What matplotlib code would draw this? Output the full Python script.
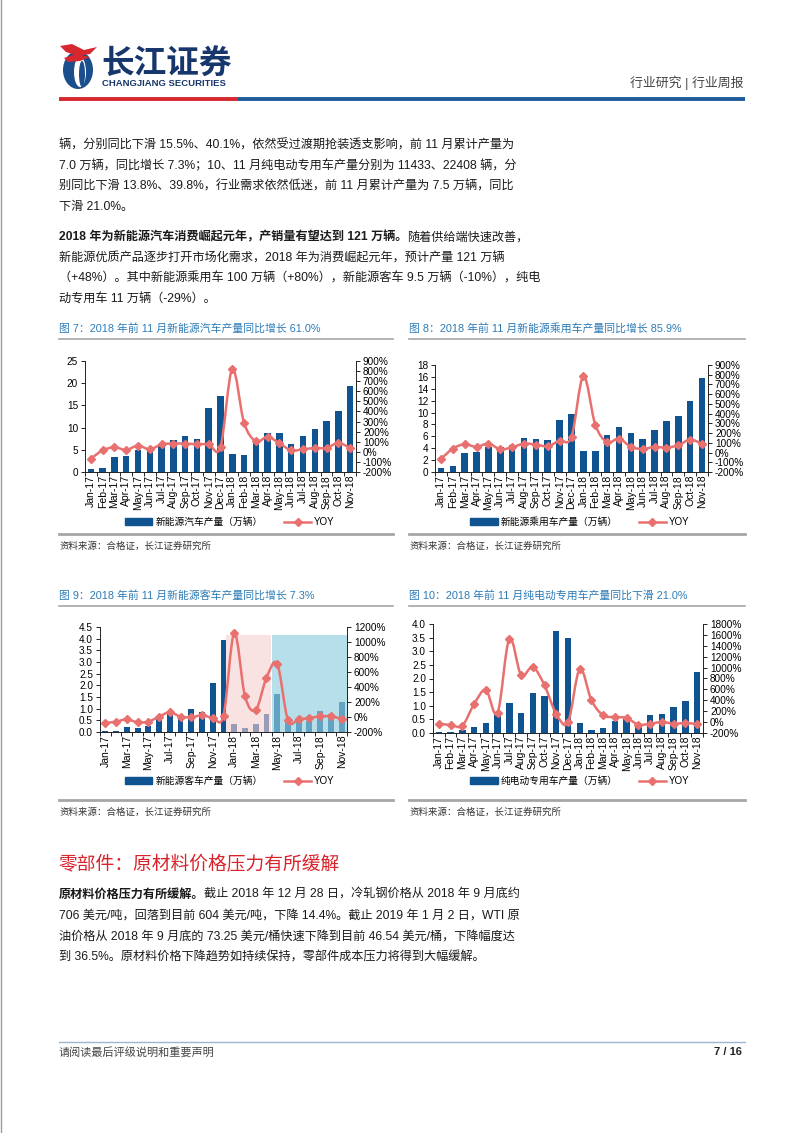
import matplotlib
matplotlib.use("Agg")
import matplotlib.pyplot as plt
import numpy as np
from matplotlib.path import Path
from matplotlib.patches import PathPatch, Ellipse, Polygon, Rectangle
from matplotlib.lines import Line2D

FAM = ['Liberation Sans', 'Noto Sans CJK SC']
plt.rcParams['font.family'] = FAM
plt.rcParams['axes.unicode_minus'] = False

# ---------------- data ----------------
months = ['Jan-17', 'Feb-17', 'Mar-17', 'Apr-17', 'May-17', 'Jun-17', 'Jul-17', 'Aug-17',
          'Sep-17', 'Oct-17', 'Nov-17', 'Dec-17', 'Jan-18', 'Feb-18', 'Mar-18', 'Apr-18',
          'May-18', 'Jun-18', 'Jul-18', 'Aug-18', 'Sep-18', 'Oct-18', 'Nov-18']

nev_prod = [0.6, 1.0, 3.4, 3.5, 4.9, 5.0, 6.3, 7.2, 8.1, 7.5, 14.5, 17.2,
            4.1, 3.8, 6.8, 8.8, 8.8, 6.3, 8.0, 9.6, 11.4, 13.7, 19.4]
nev_yoy = [-68, 15, 45, 19, 62, 25, 75, 82, 82, 75, 75, 48,
           820, 287, 105, 148, 85, 15, 25, 38, 38, 88, 38]

pv_prod = [0.6, 1.0, 3.2, 3.3, 4.2, 4.2, 4.6, 5.8, 5.6, 5.3, 8.7, 9.8,
           3.5, 3.6, 6.2, 7.65, 6.5, 5.6, 7.0, 8.55, 9.45, 11.9, 15.75]
pv_yoy = [-66, 40, 85, 58, 92, 34, 54, 92, 82, 65, 123, 161,
          786, 288, 106, 144, 58, 37, 58, 51, 75, 133, 89]

bus_prod = [0.05, 0.06, 0.22, 0.17, 0.26, 0.70, 0.77, 0.66, 1.00, 0.87, 2.12, 3.95,
            0.34, 0.18, 0.34, 0.79, 1.63, 0.42, 0.44, 0.49, 0.92, 0.77, 1.30]
bus_yoy = [-80, -62, -31, -71, -62, 5, 63, 5, -4, 23, -8, 18,
           1120, 277, 94, 522, 709, -40, -31, -13, 9, 9, -26]

sv_prod = [0.04, 0.04, 0.10, 0.23, 0.38, 0.67, 1.10, 0.75, 1.46, 1.36, 3.76, 3.49,
           0.38, 0.12, 0.18, 0.43, 0.60, 0.30, 0.66, 0.71, 0.94, 1.19, 2.25]
sv_yoy = [-29, -53, -65, 332, 589, 167, 1531, 864, 1011, 675, 149, -4,
          974, 399, 124, 94, 75, -47, -29, 2, -29, -17, -35]

left_ticks_1 = [0, 5, 10, 15, 20, 25]
right_ticks_1 = [-200, -100, 0, 100, 200, 300, 400, 500, 600, 700, 800, 900]
left_ticks_2 = [0, 2, 4, 6, 8, 10, 12, 14, 16, 18]
right_ticks_2 = right_ticks_1
left_ticks_3 = [0, 0.5, 1.0, 1.5, 2.0, 2.5, 3.0, 3.5, 4.0, 4.5]
right_ticks_3 = [-200, 0, 200, 400, 600, 800, 1000, 1200]
left_ticks_4 = [0, 0.5, 1.0, 1.5, 2.0, 2.5, 3.0, 3.5, 4.0]
right_ticks_4 = [-200, 0, 200, 400, 600, 800, 1000, 1200, 1400, 1600, 1800]

bar_labels = ['新能源汽车产量（万辆）', '新能源乘用车产量（万辆）', '新能源客车产量（万辆）', '纯电动专用车产量（万辆）']
captions = ['图 7：2018 年前 11 月新能源汽车产量同比增长 61.0%',
            '图 8：2018 年前 11 月新能源乘用车产量同比增长 85.9%',
            '图 9：2018 年前 11 月新能源客车产量同比增长 7.3%',
            '图 10：2018 年前 11 月纯电动专用车产量同比下滑 21.0%']
source = '资料来源：合格证，长江证券研究所'

# ---------------- style ----------------
BAR = '#0F5490'
LINE = '#E8706F'
CAP = '#2C7BB6'
TXT = '#1A1A1A'
W, H = 802, 1133
TICK_FS = 7.2

fig = plt.figure(figsize=(W / 100, H / 100), dpi=100)
page = fig.add_axes([0, 0, 1, 1])
page.set_xlim(0, W)
page.set_ylim(H, 0)
page.axis('off')


def smooth_path(x, y):
    x = np.asarray(x, float)
    y = np.asarray(y, float)
    n = len(x)
    verts = [(x[0], y[0])]
    codes = [Path.MOVETO]
    for i in range(n - 1):
        i0 = max(i - 1, 0)
        i3 = min(i + 2, n - 1)
        c1 = (x[i] + (x[i + 1] - x[i0]) / 6, y[i] + (y[i + 1] - y[i0]) / 6)
        c2 = (x[i + 1] - (x[i3] - x[i]) / 6, y[i + 1] - (y[i3] - y[i]) / 6)
        verts += [c1, c2, (x[i + 1], y[i + 1])]
        codes += [Path.CURVE4] * 3
    return Path(verts, codes)


def px_rect(x0, y0, x1, y1):
    return [x0 / W, 1 - y1 / H, (x1 - x0) / W, (y1 - y0) / H]


def make_chart(rect, prod, yoy, lticks, rticks, lfmt, label, legend_xy, step=1):
    ax = fig.add_axes(rect)
    xs = np.arange(len(months))
    ax.bar(xs, prod, width=0.55, color=BAR, zorder=2)
    ax.set_xlim(-0.5, len(months) - 0.5)
    ax.set_ylim(lticks[0], lticks[-1])
    ax.set_yticks(lticks)
    ax.set_yticklabels([lfmt(v) for v in lticks], fontsize=TICK_FS)
    ax.set_xticks(xs[::step])
    ax.set_xticklabels(months[::step], rotation=90, fontsize=7.5)
    ax.set_xticks(np.arange(-0.5, len(months), 1), minor=True)
    ax.tick_params(axis='x', which='major', length=0, pad=2)
    ax.tick_params(axis='x', which='minor', length=3, direction='out', width=0.6)
    ax.tick_params(axis='y', length=3, width=0.6, pad=2)
    for s in ['top', 'right']:
        ax.spines[s].set_visible(False)
    for s in ['left', 'bottom']:
        ax.spines[s].set_linewidth(0.7)
        ax.spines[s].set_color('#222222')
    ax2 = ax.twinx()
    ax2.set_ylim(rticks[0], rticks[-1])
    ax2.set_yticks(rticks)
    ax2.set_yticklabels([f'{v}%' for v in rticks], fontsize=TICK_FS)
    ax2.tick_params(axis='y', length=3, width=0.6, pad=2)
    for s in ['top', 'left', 'bottom']:
        ax2.spines[s].set_visible(False)
    ax2.spines['right'].set_linewidth(0.7)
    ax2.spines['right'].set_color('#222222')
    patch = PathPatch(smooth_path(xs, yoy), facecolor='none', edgecolor=LINE, lw=1.8, zorder=3)
    ax2.add_patch(patch)
    ax2.plot(xs, yoy, linestyle='none', marker='D', markersize=4.2, color=LINE, zorder=4)
    handles = [Rectangle((0, 0), 1, 1, color=BAR),
               Line2D([], [], color=LINE, lw=1.8, marker='D', markersize=4.2)]
    fig.legend(handles, [label, 'YOY'], loc='center',
               bbox_to_anchor=(legend_xy[0] / W, 1 - legend_xy[1] / H),
               ncol=2, frameon=False, fontsize=7.0, handlelength=2.8, handleheight=0.6,
               columnspacing=2.2, handletextpad=0.3, numpoints=1)
    return ax, ax2


fmt_int = lambda v: f'{v:g}'
fmt_1 = lambda v: f'{v:.1f}'

make_chart(px_rect(85, 361, 356, 472), nev_prod, nev_yoy, left_ticks_1, right_ticks_1,
           fmt_int, bar_labels[0], (230, 522))
make_chart(px_rect(435, 365, 708, 472), pv_prod, pv_yoy, left_ticks_2, right_ticks_2,
           fmt_int, bar_labels[1], (580, 522))
ax3, ax3b = make_chart(px_rect(100, 627, 347, 732), bus_prod, bus_yoy, left_ticks_3, right_ticks_3,
                       fmt_1, bar_labels[2], (230, 781), step=2)
make_chart(px_rect(433, 624, 703, 733), sv_prod, sv_yoy, left_ticks_4, right_ticks_4,
           fmt_1, bar_labels[3], (580, 781))

# highlight overlays on chart 9
i_jan18 = months.index('Jan-18')
i_may18 = months.index('May-18')
top = 4.15
ax3.add_patch(Rectangle((i_jan18 - 0.75, 0), (i_may18 - 0.55) - (i_jan18 - 0.75), top,
                        facecolor='#F5CFCF', alpha=0.6, edgecolor='none', zorder=10,
                        transform=ax3.transData))
ax3.add_patch(Rectangle((i_may18 - 0.45, 0), (len(months) - 0.5) - (i_may18 - 0.45), top,
                        facecolor='#8FCFE0', alpha=0.65, edgecolor='none', zorder=10,
                        transform=ax3.transData))

# ---------------- page furniture ----------------
# logo icon
page.add_patch(Ellipse((78, 70), 30, 38, facecolor='#1B4E8C', edgecolor='none'))
page.add_patch(Ellipse((80, 72), 12, 30, facecolor='white', edgecolor='none'))
page.add_patch(Ellipse((82, 74), 6, 26, facecolor='#1B4E8C', edgecolor='none'))
page.add_patch(Polygon([(60, 46), (72, 44), (84, 50), (97, 47), (90, 54), (78, 56), (66, 52)],
                       closed=True, facecolor='#D7282F', edgecolor='none'))
page.add_patch(Polygon([(64, 58), (76, 54), (90, 57), (80, 61), (68, 62)],
                       closed=True, facecolor='#D7282F', edgecolor='none'))
page.text(101, 64, '长江证券', fontsize=23.5, fontweight='bold', color='#17366B',
          va='center', ha='left', family=FAM)
page.text(102, 83.5, 'CHANGJIANG SECURITIES', fontsize=6.8, fontweight='bold', color='#17366B',
          va='center', ha='left')
page.text(744, 83, '行业研究 | 行业周报', fontsize=9.3, color='#444444', va='center', ha='right')
page.plot([59, 238], [98.5, 98.5], color='#D7282F', lw=2.8, solid_capstyle='butt')
page.plot([238, 745], [98.5, 98.5], color='#1F5C99', lw=2.8, solid_capstyle='butt')

BODY = 8.75


def body_line(y, s, x=59, bold=None):
    if bold:
        t = page.text(x, y, bold, fontsize=BODY, fontweight='bold', color=TXT, va='center', ha='left')
        page.annotate(s, xy=(1, 0), xycoords=t, va='bottom', ha='left', fontsize=BODY, color=TXT)
    else:
        page.text(x, y, s, fontsize=BODY, color=TXT, va='center', ha='left')


p1 = ['辆，分别同比下滑 15.5%、40.1%，依然受过渡期抢装透支影响，前 11 月累计产量为',
      '7.0 万辆，同比增长 7.3%；10、11 月纯电动专用车产量分别为 11433、22408 辆，分',
      '别同比下滑 13.8%、39.8%，行业需求依然低迷，前 11 月累计产量为 7.5 万辆，同比',
      '下滑 21.0%。']
for k, s in enumerate(p1):
    body_line(145 + 20.7 * k, s)

body_line(237, '随着供给端快速改善，', bold='2018 年为新能源汽车消费崛起元年，产销量有望达到 121 万辆。')
p2 = ['新能源优质产品逐步打开市场化需求，2018 年为消费崛起元年，预计产量 121 万辆',
      '（+48%）。其中新能源乘用车 100 万辆（+80%），新能源客车 9.5 万辆（-10%），纯电',
      '动专用车 11 万辆（-29%）。']
for k, s in enumerate(p2):
    body_line(258 + 20.7 * k, s)

# captions
for (x0, x1, yc), cap in zip([(59, 393, 328), (409, 745, 328), (59, 393, 595), (409, 745, 595)], captions):
    page.text(x0, yc, cap, fontsize=7.8, color=CAP, va='center', ha='left')
    page.plot([x0, x1], [yc + 11, yc + 11], color='#A6A6A6', lw=1.2)

# bottom rules + sources
for (x0, x1, yl) in [(59, 393, 534), (409, 745, 534), (59, 393, 800), (409, 745, 800)]:
    page.plot([x0, x1], [yl, yl], color='#A6A6A6', lw=2.0)
    page.text(x0, yl + 12, source, fontsize=6.8, color='#333333', va='center', ha='left')

# section heading
page.text(58, 865, '零部件：原材料价格压力有所缓解', fontsize=13.5, color='#D9232B', va='center', ha='left')

body_line(895, '截止 2018 年 12 月 28 日，冷轧钢价格从 2018 年 9 月底约', bold='原材料价格压力有所缓解。')
p3 = ['706 美元/吨，回落到目前 604 美元/吨，下降 14.4%。截止 2019 年 1 月 2 日，WTI 原',
      '油价格从 2018 年 9 月底的 73.25 美元/桶快速下降到目前 46.54 美元/桶，下降幅度达',
      '到 36.5%。原材料价格下降趋势如持续保持，零部件成本压力将得到大幅缓解。']
for k, s in enumerate(p3):
    body_line(916 + 20.7 * k, s)

# footer
page.plot([59, 745], [1042, 1042], color='#9DB5D0', lw=1.0)
page.text(59, 1052, '请阅读最后评级说明和重要声明', fontsize=8, color='#444444', va='center', ha='left')
page.text(742, 1052, '7 / 16', fontsize=8, fontweight='bold', color='#222222', va='center', ha='right')

# page border
page.plot([0.5, 0.5], [0, H], color='#9A9A9A', lw=1.0)

fig.savefig('out.png', dpi=100)
